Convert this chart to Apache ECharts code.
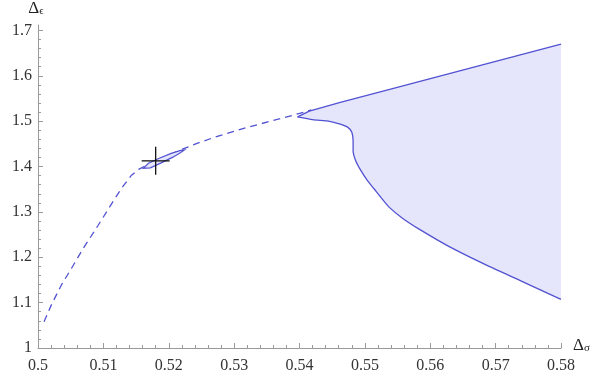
<!DOCTYPE html>
<html>
<head>
<meta charset="utf-8">
<style>
  html, body { margin: 0; padding: 0; background: #fff; }
  #main { width: 600px; height: 379px; }
</style>
<script src="https://cdn.jsdelivr.net/npm/echarts@6/dist/echarts.min.js"></script>
</head>
<body>
<div id="main"></div>
<script>
// tick values
var xTicks = [0.5, 0.51, 0.52, 0.53, 0.54, 0.55, 0.56, 0.57, 0.58];
var yTicks = [1, 1.1, 1.2, 1.3, 1.4, 1.5, 1.6, 1.7];

// dashed curve
var dashedCurve = [
  [0.50092, 1.0578], [0.50203, 1.0945], [0.50356, 1.1385], [0.5051, 1.175],
  [0.50689, 1.219], [0.50918, 1.270], [0.51094, 1.3105], [0.51272, 1.351],
  [0.51425, 1.380], [0.51553, 1.395], [0.5165, 1.402], [0.518, 1.412],
  [0.5205, 1.428], [0.5222, 1.439], [0.5248, 1.4535], [0.5273, 1.466],
  [0.5319, 1.486], [0.5369, 1.505], [0.54, 1.517], [0.5418, 1.525]
];

// small island around the cross
var islandOutline = [
  [0.5161, 1.396], [0.51689, 1.4073], [0.51846, 1.4176], [0.52038, 1.429],
  [0.52171, 1.4352], [0.5224, 1.4367], [0.52183, 1.4308], [0.52063, 1.4207],
  [0.51876, 1.4075], [0.51719, 1.3971]
];

// allowed region, upper and lower edges
var upperEdge = [
  [0.5397, 1.5095], [0.5415, 1.522], [0.5461, 1.541], [0.5522, 1.564], [0.58, 1.67]
];
var lowerEdge = [
  [0.5397, 1.5095], [0.542, 1.5035], [0.5446, 1.4996], [0.5461, 1.4938],
  [0.5474, 1.4864], [0.548, 1.4755], [0.5482, 1.457], [0.5482, 1.435],
  [0.5486, 1.413], [0.5494, 1.391], [0.5504, 1.369], [0.5514, 1.351],
  [0.5525, 1.331], [0.5537, 1.3105], [0.5558, 1.2855], [0.5583, 1.262],
  [0.5629, 1.2235], [0.569, 1.180], [0.5741, 1.1465], [0.58, 1.107]
];

// cross marker
var crossPoint = [0.518, 1.4125];

var lineColor = '#5252d2';
var fillColor = '#e5e5fb';
var axisGray = '#9a9a9a';
var serif = 'Liberation Serif';

function fmt(v) {
  return String(+(+v).toFixed(2));
}

function polygonItem(points, style) {
  return function (params, api) {
    return {
      type   : 'polygon',
      shape  : { points: points.map(function (p) { return api.coord(p); }) },
      style  : style,
    };
  };
}

var regionPoints = upperEdge.concat(lowerEdge.slice().reverse());

var myChart = echarts.init(document.getElementById('main'));
myChart.setOption({
  animation : false,
  textStyle : { fontFamily: serif },
  grid      : { left: 38, right: 39, top: 24, bottom: 31 },
  xAxis     : {
    type         : 'value',
    min          : 0.5,
    max          : 0.58,
    interval     : 0.01,
    name         : '{d|Δ}{s|σ}',
    nameLocation : 'end',
    nameGap      : 12,
    nameTextStyle: {
      verticalAlign : 'bottom',
      padding       : [0, 0, -6, 0],
      rich          : {
        d : { fontFamily: serif, fontSize: 17, color: '#222' },
        s : { fontFamily: serif, fontSize: 11, color: '#222', padding: [0, 0, -6, 0] },
      },
    },
    splitLine : { show: false },
    axisLine  : { onZero: false, lineStyle: { color: axisGray, width: 1 } },
    axisTick  : { inside: true, length: 5, lineStyle: { color: axisGray } },
    minorTick : { show: true, splitNumber: 5, length: 3, lineStyle: { color: axisGray } },
    axisLabel : {
      customValues : xTicks,
      formatter    : fmt,
      margin       : 10,
      fontFamily   : serif,
      fontSize     : 16,
      color        : '#333',
    },
  },
  yAxis: {
    type         : 'value',
    min          : 1,
    max          : 1.712,
    interval     : 0.1,
    name         : '{d|Δ}{s|ϵ}',
    nameLocation : 'end',
    nameGap      : 8,
    nameTextStyle: {
      padding : [0, 4, 0, 0],
      rich    : {
        d : { fontFamily: serif, fontSize: 17, color: '#222' },
        s : { fontFamily: serif, fontSize: 11, color: '#222', padding: [0, 0, -6, 0] },
      },
    },
    splitLine : { show: false },
    axisLine  : { onZero: false, lineStyle: { color: axisGray, width: 1 } },
    axisTick  : { inside: true, length: 5, customValues: yTicks, lineStyle: { color: axisGray } },
    minorTick : { show: true, splitNumber: 5, length: 3, lineStyle: { color: axisGray } },
    axisLabel : {
      customValues : yTicks,
      formatter    : fmt,
      margin       : 6,
      fontFamily   : serif,
      fontSize     : 16,
      color        : '#333',
    },
  },
  series: [
    {
      type       : 'custom',
      data       : [0],
      renderItem : polygonItem(regionPoints, { fill: fillColor }),
      z          : 1,
    },
    {
      type      : 'line',
      data      : upperEdge,
      symbol    : 'none',
      lineStyle : { color: lineColor, width: 1.3 },
      z         : 3,
    },
    {
      type      : 'line',
      data      : lowerEdge,
      symbol    : 'none',
      smooth    : 0.2,
      lineStyle : { color: lineColor, width: 1.3 },
      z         : 3,
    },
    {
      type      : 'line',
      data      : dashedCurve,
      symbol    : 'none',
      lineStyle : { color: lineColor, width: 1.3, type: [7, 5] },
      z         : 2,
    },
    {
      type       : 'custom',
      data       : [0],
      renderItem : polygonItem(islandOutline, { fill: fillColor, stroke: lineColor, lineWidth: 1.2 }),
      z          : 4,
    },
    {
      type       : 'custom',
      data       : [crossPoint],
      renderItem : function (params, api) {
        var c = api.coord([api.value(0), api.value(1)]);
        var arm = 14;
        var st = { stroke: '#111', lineWidth: 1.3 };
        return {
          type     : 'group',
          children : [
            { type: 'line', shape: { x1: c[0] - arm, y1: c[1], x2: c[0] + arm, y2: c[1] }, style: st },
            { type: 'line', shape: { x1: c[0], y1: c[1] - arm, x2: c[0], y2: c[1] + arm }, style: st },
          ],
        };
      },
      z: 5,
    },
  ],
});
</script>
</body>
</html>
